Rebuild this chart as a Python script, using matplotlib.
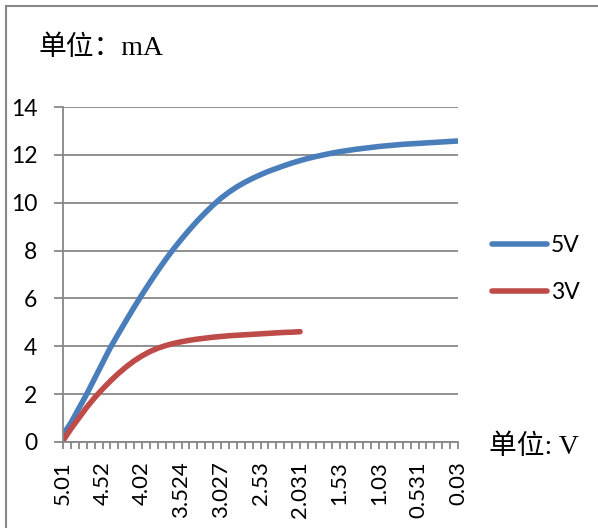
import matplotlib.pyplot as plt
from matplotlib.lines import Line2D
import numpy as np

plt.rcParams['font.family'] = ['Lato', 'DejaVu Sans']

# x tick labels (voltage, every 5th category of 51)
tick_labels = ["5.01", "4.52", "4.02", "3.524", "3.027", "2.53",
               "2.031", "1.53", "1.03", "0.531", "0.03"]

# current in mA, one value per category
i_5v = [0.3, 0.8, 1.4, 2.0, 2.65, 3.3, 3.95, 4.52, 5.08, 5.63,
        6.16, 6.67, 7.16, 7.63, 8.07, 8.48, 8.87, 9.24, 9.58, 9.9,
        10.19, 10.44, 10.66, 10.85, 11.02, 11.17, 11.31, 11.43, 11.55, 11.66,
        11.76, 11.85, 11.93, 12.0, 12.07, 12.13, 12.18, 12.23, 12.27, 12.31,
        12.35, 12.38, 12.41, 12.44, 12.46, 12.48, 12.5, 12.52, 12.54, 12.56,
        12.58]
i_3v = [0.05, 0.55, 1.0, 1.45, 1.85, 2.21, 2.55, 2.86, 3.14, 3.39,
        3.6, 3.78, 3.92, 4.03, 4.12, 4.19, 4.25, 4.3, 4.34, 4.38,
        4.41, 4.44, 4.46, 4.48, 4.5, 4.52, 4.54, 4.56, 4.58, 4.59,
        4.61]

grey = "#878787"
fig = plt.figure(figsize=(5.98, 5.28), dpi=100)
ax = fig.add_axes([63 / 598, 1 - 442 / 528, 395 / 598, 335 / 528])

ax.plot(np.arange(len(i_5v)), i_5v, color="#4A7EBB", lw=4,
        solid_capstyle="round", solid_joinstyle="round", label="5V")
ax.plot(np.arange(len(i_3v)), i_3v, color="#BE4B48", lw=4,
        solid_capstyle="round", solid_joinstyle="round", label="3V")

ax.set_xlim(0, len(i_5v) - 1)
ax.set_ylim(0, 14)
ax.set_yticks(np.arange(0, 15, 2))
ax.set_xticks(np.arange(0, len(i_5v), 5))
ax.set_xticklabels(tick_labels, rotation=90)
ax.set_xticks(np.arange(len(i_5v)), minor=True)

ax.grid(axis="y", color=grey, lw=1.3)
ax.set_axisbelow(True)
for s in ["top", "right"]:
    ax.spines[s].set_visible(False)
for s in ["left", "bottom"]:
    ax.spines[s].set_color(grey)
    ax.spines[s].set_linewidth(1.3)

ax.tick_params(axis="y", length=6.5, width=1.3, color=grey, labelsize=16.5, pad=12)
ax.tick_params(axis="x", which="both", length=5, width=1.3, color=grey,
               labelsize=16, pad=9)

fig.legend(loc="center left", bbox_to_anchor=(471 / 598, 1 - 269 / 528),
           frameon=False, fontsize=16.5, handlelength=2.4, handletextpad=0.2,
           labelspacing=1.15)

fig.text(39 / 598, 1 - 48 / 528, "单位：mA", fontsize=20, va="center",
         family=["Liberation Serif", "Noto Sans CJK SC"])
fig.text(489 / 598, 1 - 447 / 528, "单位: V", fontsize=20, va="center",
         family=["Liberation Serif", "Noto Sans CJK SC"])

# outer chart border (only top and left visible in the crop)
fig.add_artist(Line2D([6 / 598, 1], [1 - 6 / 528, 1 - 6 / 528], color=grey, lw=1.5))
fig.add_artist(Line2D([6 / 598, 6 / 598], [0, 1 - 6 / 528], color=grey, lw=1.5))

fig.savefig("out.png", dpi=100)
